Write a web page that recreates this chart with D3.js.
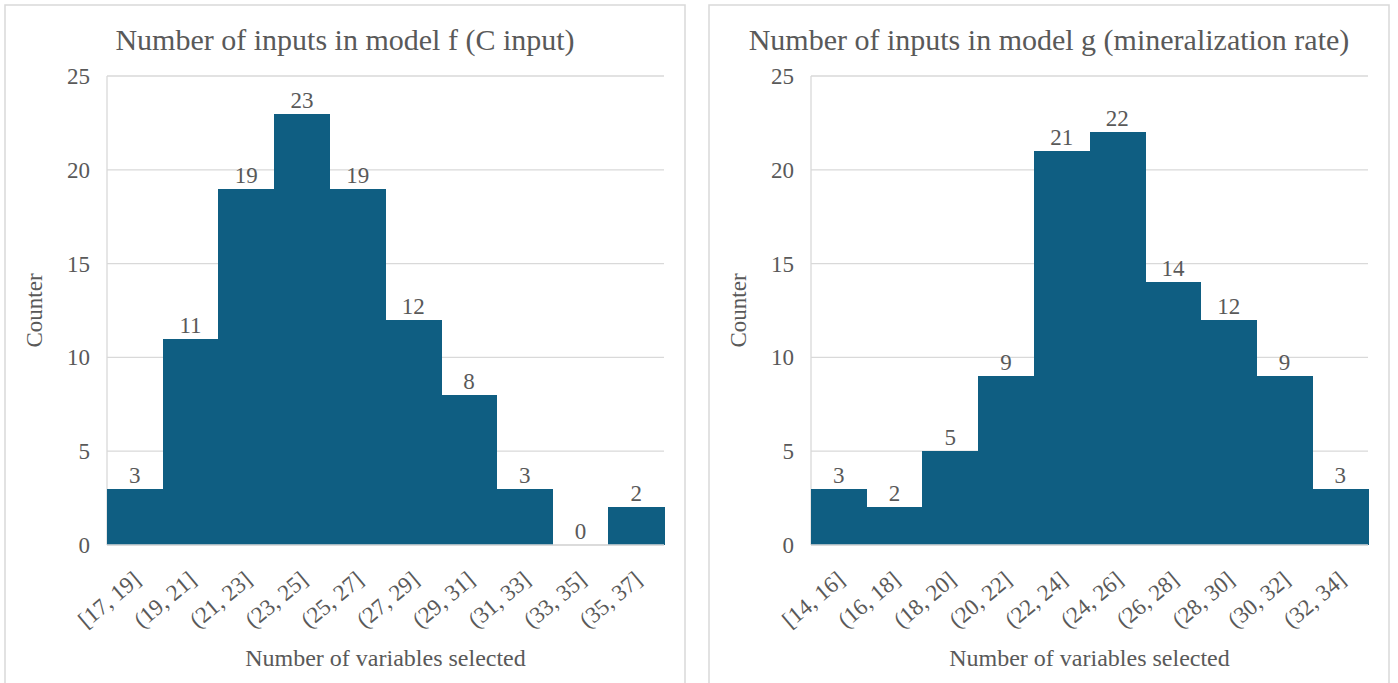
<!DOCTYPE html>
<html>
<head>
<meta charset="utf-8">
<script src="https://cdn.jsdelivr.net/npm/d3@7/dist/d3.min.js"></script>
<style>
  html, body { margin: 0; padding: 0; background: #ffffff; }
  svg { display: block; }
</style>
</head>
<body>
<svg id="chart" width="1398" height="683"></svg>
<script>
// Histogram of inputs selected for model f
const binsF = ["[17, 19]", "(19, 21]", "(21, 23]", "(23, 25]", "(25, 27]", "(27, 29]", "(29, 31]", "(31, 33]", "(33, 35]", "(35, 37]"];
const countsF = [3, 11, 19, 23, 19, 12, 8, 3, 0, 2];

// Histogram of inputs selected for model g
const binsG = ["[14, 16]", "(16, 18]", "(18, 20]", "(20, 22]", "(22, 24]", "(24, 26]", "(26, 28]", "(28, 30]", "(30, 32]", "(32, 34]"];
const countsG = [3, 2, 5, 9, 21, 22, 14, 12, 9, 3];

const yTicks = [0, 5, 10, 15, 20, 25];

const titles = ["Number of inputs in model f (C input)", "Number of inputs in model g (mineralization rate)"];
const xTitle = "Number of variables selected";
const yTitle = "Counter";

const BAR = "#0f5e82";
const GRID = "#d9d9d9";
const INK = "#595959";
const FONT = '"Liberation Serif", "Times New Roman", serif';

const svg = d3.select("#chart");

// shared text styling
function label(sel, size) {
  return sel.style("font-family", FONT).style("font-size", size + "px").style("fill", INK);
}

function panel(px, bins, counts, title) {
  const pw = 680;
  const g = svg.append("g").attr("transform", `translate(${px},0)`);

  // panel frame (runs past the bottom edge)
  g.append("rect")
    .attr("x", 0).attr("y", 5).attr("width", pw).attr("height", 700)
    .attr("fill", "#fff").attr("stroke", GRID).attr("stroke-width", 1.5);

  const left = 102, right = 659, top = 76, bottom = 545;

  const x = d3.scaleBand().domain(bins).range([left, right]).padding(0);
  const y = d3.scaleLinear().domain([0, 25]).range([bottom, top]);

  // horizontal gridlines
  g.append("g").selectAll("line").data(yTicks).join("line")
    .attr("x1", left).attr("x2", right)
    .attr("y1", d => y(d)).attr("y2", d => y(d))
    .attr("stroke", GRID).attr("stroke-width", 1.3);

  // left vertical line
  g.append("line")
    .attr("x1", left).attr("x2", left).attr("y1", top).attr("y2", bottom)
    .attr("stroke", GRID).attr("stroke-width", 1.3);

  // y tick labels
  g.append("g").selectAll("text").data(yTicks).join("text")
    .attr("x", left - 17).attr("y", d => y(d))
    .attr("dy", "0.35em")
    .attr("text-anchor", "end")
    .call(label, 23)
    .text(d => d);

  // bars
  g.append("g").attr("shape-rendering", "crispEdges")
    .selectAll("rect").data(counts).join("rect")
    .attr("x", (d, i) => x(bins[i]))
    .attr("width", x.bandwidth() + 0.5)
    .attr("y", d => y(d))
    .attr("height", d => bottom - y(d))
    .attr("fill", BAR);

  // baseline drawn over bars
  g.append("line")
    .attr("x1", left).attr("x2", right).attr("y1", bottom).attr("y2", bottom)
    .attr("stroke", GRID).attr("stroke-width", 1.3);

  // value labels
  g.append("g").selectAll("text").data(counts).join("text")
    .attr("x", (d, i) => x(bins[i]) + x.bandwidth() / 2)
    .attr("y", d => y(d) - 6)
    .attr("text-anchor", "middle")
    .call(label, 23)
    .text(d => d);

  // x tick labels, rotated
  g.append("g").selectAll("text").data(bins).join("text")
    .attr("transform", d => `translate(${x(d) + x.bandwidth() / 2 + 2},${bottom + 31}) rotate(-40)`)
    .attr("text-anchor", "end")
    .attr("dy", "0.35em")
    .call(label, 23)
    .text(d => d);

  // titles
  g.append("text")
    .attr("x", pw / 2).attr("y", 50)
    .attr("text-anchor", "middle")
    .call(label, 30)
    .text(title);

  g.append("text")
    .attr("x", (left + right) / 2).attr("y", 666)
    .attr("text-anchor", "middle")
    .call(label, 24)
    .text(xTitle);

  g.append("text")
    .attr("transform", `translate(37,${(top + bottom) / 2}) rotate(-90)`)
    .attr("text-anchor", "middle")
    .call(label, 23)
    .text(yTitle);
}

panel(5, binsF, countsF, titles[0]);
panel(709, binsG, countsG, titles[1]);
</script>
</body>
</html>
